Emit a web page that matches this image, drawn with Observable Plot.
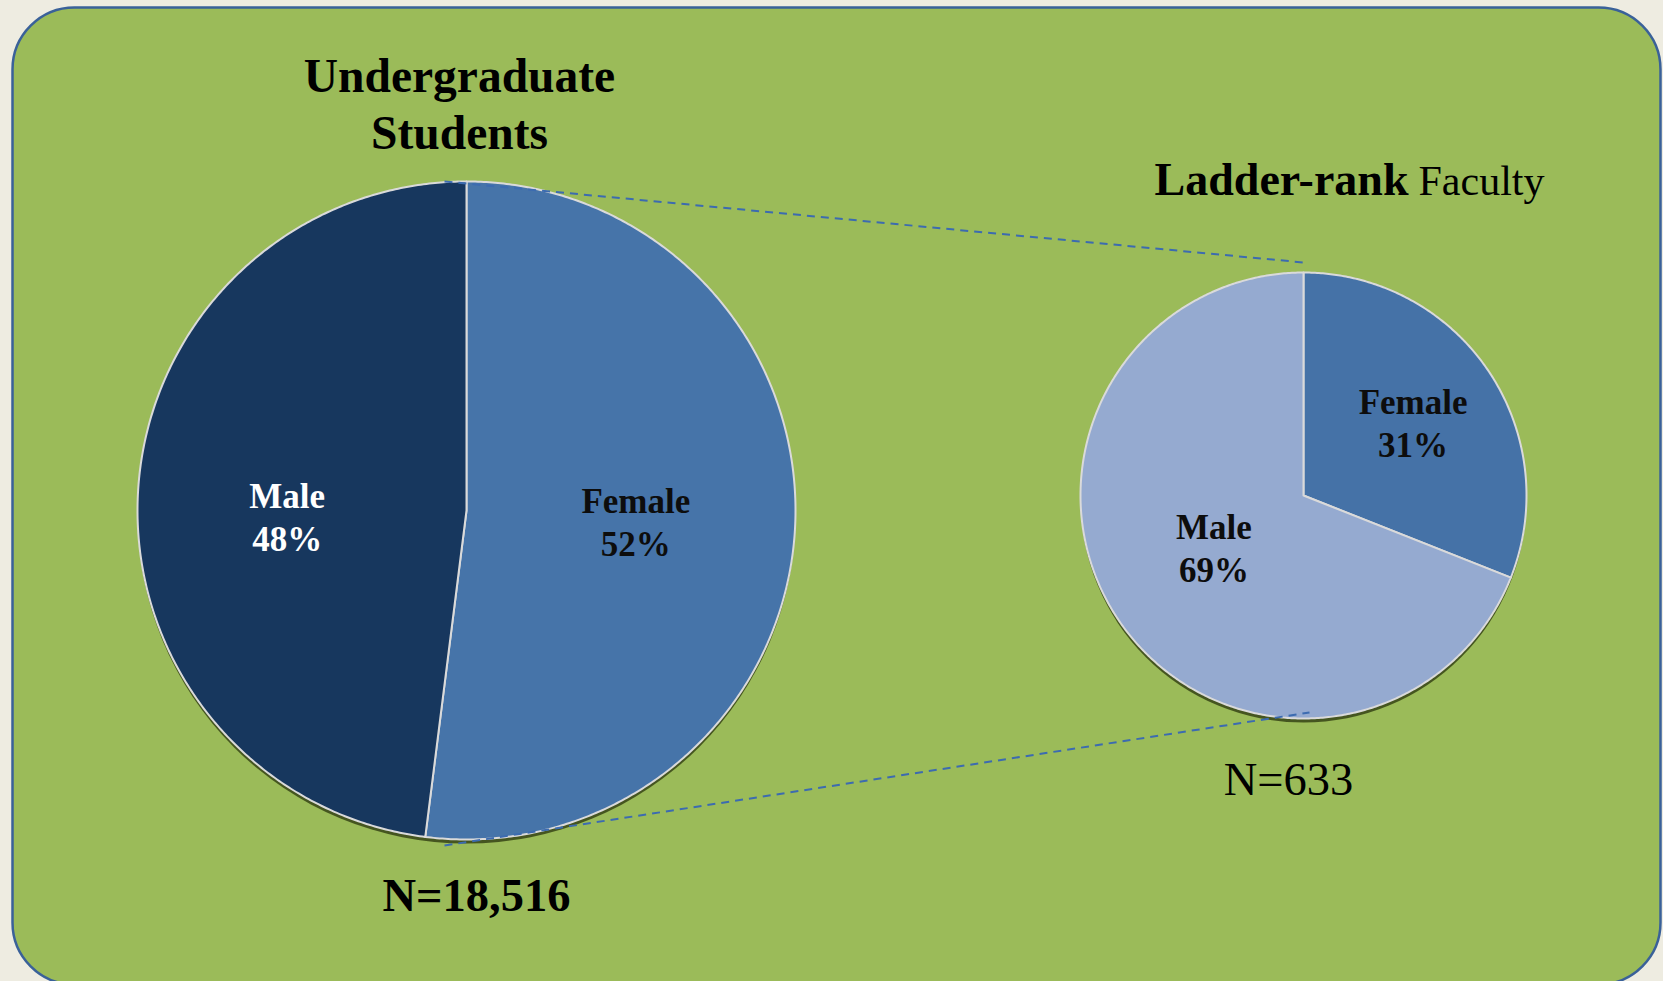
<!DOCTYPE html>
<html>
<head>
<meta charset="utf-8">
<script src="https://cdn.jsdelivr.net/npm/d3@7"></script>
<script src="https://cdn.jsdelivr.net/npm/@observablehq/plot@0.6"></script>
<style>
  html, body { margin: 0; padding: 0; background: #EEECE1; }
  svg { display: block; }
</style>
</head>
<body>
<div id="chart"></div>
<script>
// ---- data ----
const studentCategories = ["Female", "Male"];
const studentShares = [52, 48];
const studentCount = "N=18,516";
const studentTitle = "Undergraduate\nStudents";

const facultyCategories = ["Female", "Male"];
const facultyShares = [31, 69];
const facultyCount = "N=633";
const facultyTitleBold = "Ladder-rank";
const facultyTitleRegular = "Faculty";

// ---- style ----
const studentColors = ["#4674A9", "#17375E"];
const studentLabelColors = ["#0d0d0d", "#ffffff"];
const facultyColors = ["#4572A7", "#95AAD0"];
const facultyLabelColors = ["#0d0d0d", "#0d0d0d"];

const W = 1663, H = 981;
const serif = "'Liberation Serif', 'DejaVu Serif', serif";
const bigPie = {cx: 466, cy: 510, r: 329};
const smallPie = {cx: 1303, cy: 495, r: 223};
// label nudges (pixels) for the data-label boxes, by pie and slice
const labelNudge = {
  "student Female": [-8, -1], "student Male": [-2, 16],
  "faculty Female": [10, -6], "faculty Male": [10, -16]
};

function slices(pie, cats, shares, colors, name) {
  const total = d3.sum(shares);
  const pts = [];
  let cum = 0;
  cats.forEach((c, i) => {
    const a0 = cum / total * 2 * Math.PI;
    cum += shares[i];
    const a1 = cum / total * 2 * Math.PI;
    const key = name + " " + c;
    pts.push({key, color: colors[i], x: pie.cx, y: pie.cy});
    const n = Math.max(2, Math.ceil((a1 - a0) / (2 * Math.PI) * 720));
    for (let k = 0; k <= n; k++) {
      const a = a0 + (a1 - a0) * k / n;
      pts.push({key, color: colors[i], x: pie.cx + pie.r * Math.sin(a), y: pie.cy - pie.r * Math.cos(a)});
    }
    pts.push({key, color: colors[i], x: pie.cx, y: pie.cy});
  });
  return pts;
}

function labels(pie, cats, shares, colors, name) {
  const total = d3.sum(shares);
  let cum = 0;
  return cats.map((c, i) => {
    const a = (cum + shares[i] / 2) / total * 2 * Math.PI;
    cum += shares[i];
    const [nx, ny] = labelNudge[name + " " + c] || [0, 0];
    return {
      text: `${c}\n${shares[i]}%`,
      color: colors[i],
      x: pie.cx + pie.r * 0.54 * Math.sin(a) + nx,
      y: pie.cy - pie.r * 0.54 * Math.cos(a) + ny
    };
  });
}

const slicePts = [
  ...slices(bigPie, studentCategories, studentShares, studentColors, "student"),
  ...slices(smallPie, facultyCategories, facultyShares, facultyColors, "faculty")
];
const sliceLabels = [
  ...labels(bigPie, studentCategories, studentShares, studentLabelColors, "student"),
  ...labels(smallPie, facultyCategories, facultyShares, facultyLabelColors, "faculty")
];

const connectors = [
  {x1: bigPie.cx - 22, y1: bigPie.cy - bigPie.r, x2: smallPie.cx, y2: smallPie.cy - smallPie.r - 10},
  {x1: bigPie.cx - 22, y1: bigPie.cy + bigPie.r + 6, x2: smallPie.cx + 6, y2: smallPie.cy + smallPie.r - 6}
];

const plot = Plot.plot({
  width: W,
  height: H,
  margin: 0,
  style: {background: "#EEECE1"},
  x: {domain: [0, W], range: [0, W], axis: null},
  y: {domain: [0, H], range: [0, H], axis: null},
  color: {type: "identity"},
  marks: [
    Plot.frame({fill: "#9BBB59", stroke: "#3A6199", strokeWidth: 2.5, rx: 62, ry: 62,
      insetLeft: 12, insetTop: 7, insetRight: 3, insetBottom: -3}),
    Plot.dot([bigPie], {x: "cx", y: "cy", r: bigPie.r, dy: 4, fill: "#2f3c12", fillOpacity: 0.8, stroke: null, ariaLabel: "pie shadow"}),
    Plot.dot([smallPie], {x: "cx", y: "cy", r: smallPie.r, dy: 4, fill: "#2f3c12", fillOpacity: 0.8, stroke: null, ariaLabel: "pie shadow"}),
    Plot.line(slicePts, {x: "x", y: "y", z: "key", fill: "color", stroke: "#DADADA", strokeWidth: 2, strokeLinejoin: "round"}),
    Plot.link(connectors, {x1: "x1", y1: "y1", x2: "x2", y2: "y2", stroke: "#3C6BB0", strokeWidth: 2, strokeDasharray: "8,6"}),
    Plot.text(sliceLabels, {x: "x", y: "y", text: "text", fill: "color", fontFamily: serif, fontWeight: "bold", fontSize: 35, lineHeight: 1.23, lineAnchor: "middle"}),
    Plot.text([studentTitle], {x: () => bigPie.cx - 7, y: () => 148, text: d => d, fontFamily: serif, fontWeight: "bold", fontSize: 47.5, lineHeight: 1.18, lineAnchor: "bottom", fill: "#000"}),
    Plot.text([facultyTitleBold], {x: () => 1408, y: () => 194, text: d => d, textAnchor: "end", fontFamily: serif, fontWeight: "bold", fontSize: 46, lineAnchor: "bottom", fill: "#000"}),
    Plot.text([facultyTitleRegular], {x: () => 1418, y: () => 194, text: d => d, textAnchor: "start", fontFamily: serif, fontSize: 42, lineAnchor: "bottom", fill: "#000"}),
    Plot.text([studentCount], {x: () => 476, y: () => 910, text: d => d, fontFamily: serif, fontWeight: "bold", fontSize: 46.5, lineAnchor: "bottom", fill: "#000"}),
    Plot.text([facultyCount], {x: () => 1288, y: () => 794, text: d => d, fontFamily: serif, fontSize: 46.5, lineAnchor: "bottom", fill: "#000"})
  ]
});

// soft shadow under the pies
const svg = d3.select(plot);
const defs = svg.insert("defs", ":first-child");
const f = defs.append("filter").attr("id", "pieShadow").attr("x", "-10%").attr("y", "-10%").attr("width", "120%").attr("height", "120%");
f.append("feGaussianBlur").attr("stdDeviation", 3.5);
svg.selectAll("g[aria-label='pie shadow']").attr("filter", "url(#pieShadow)");

document.getElementById("chart").appendChild(plot);
</script>
</body>
</html>
